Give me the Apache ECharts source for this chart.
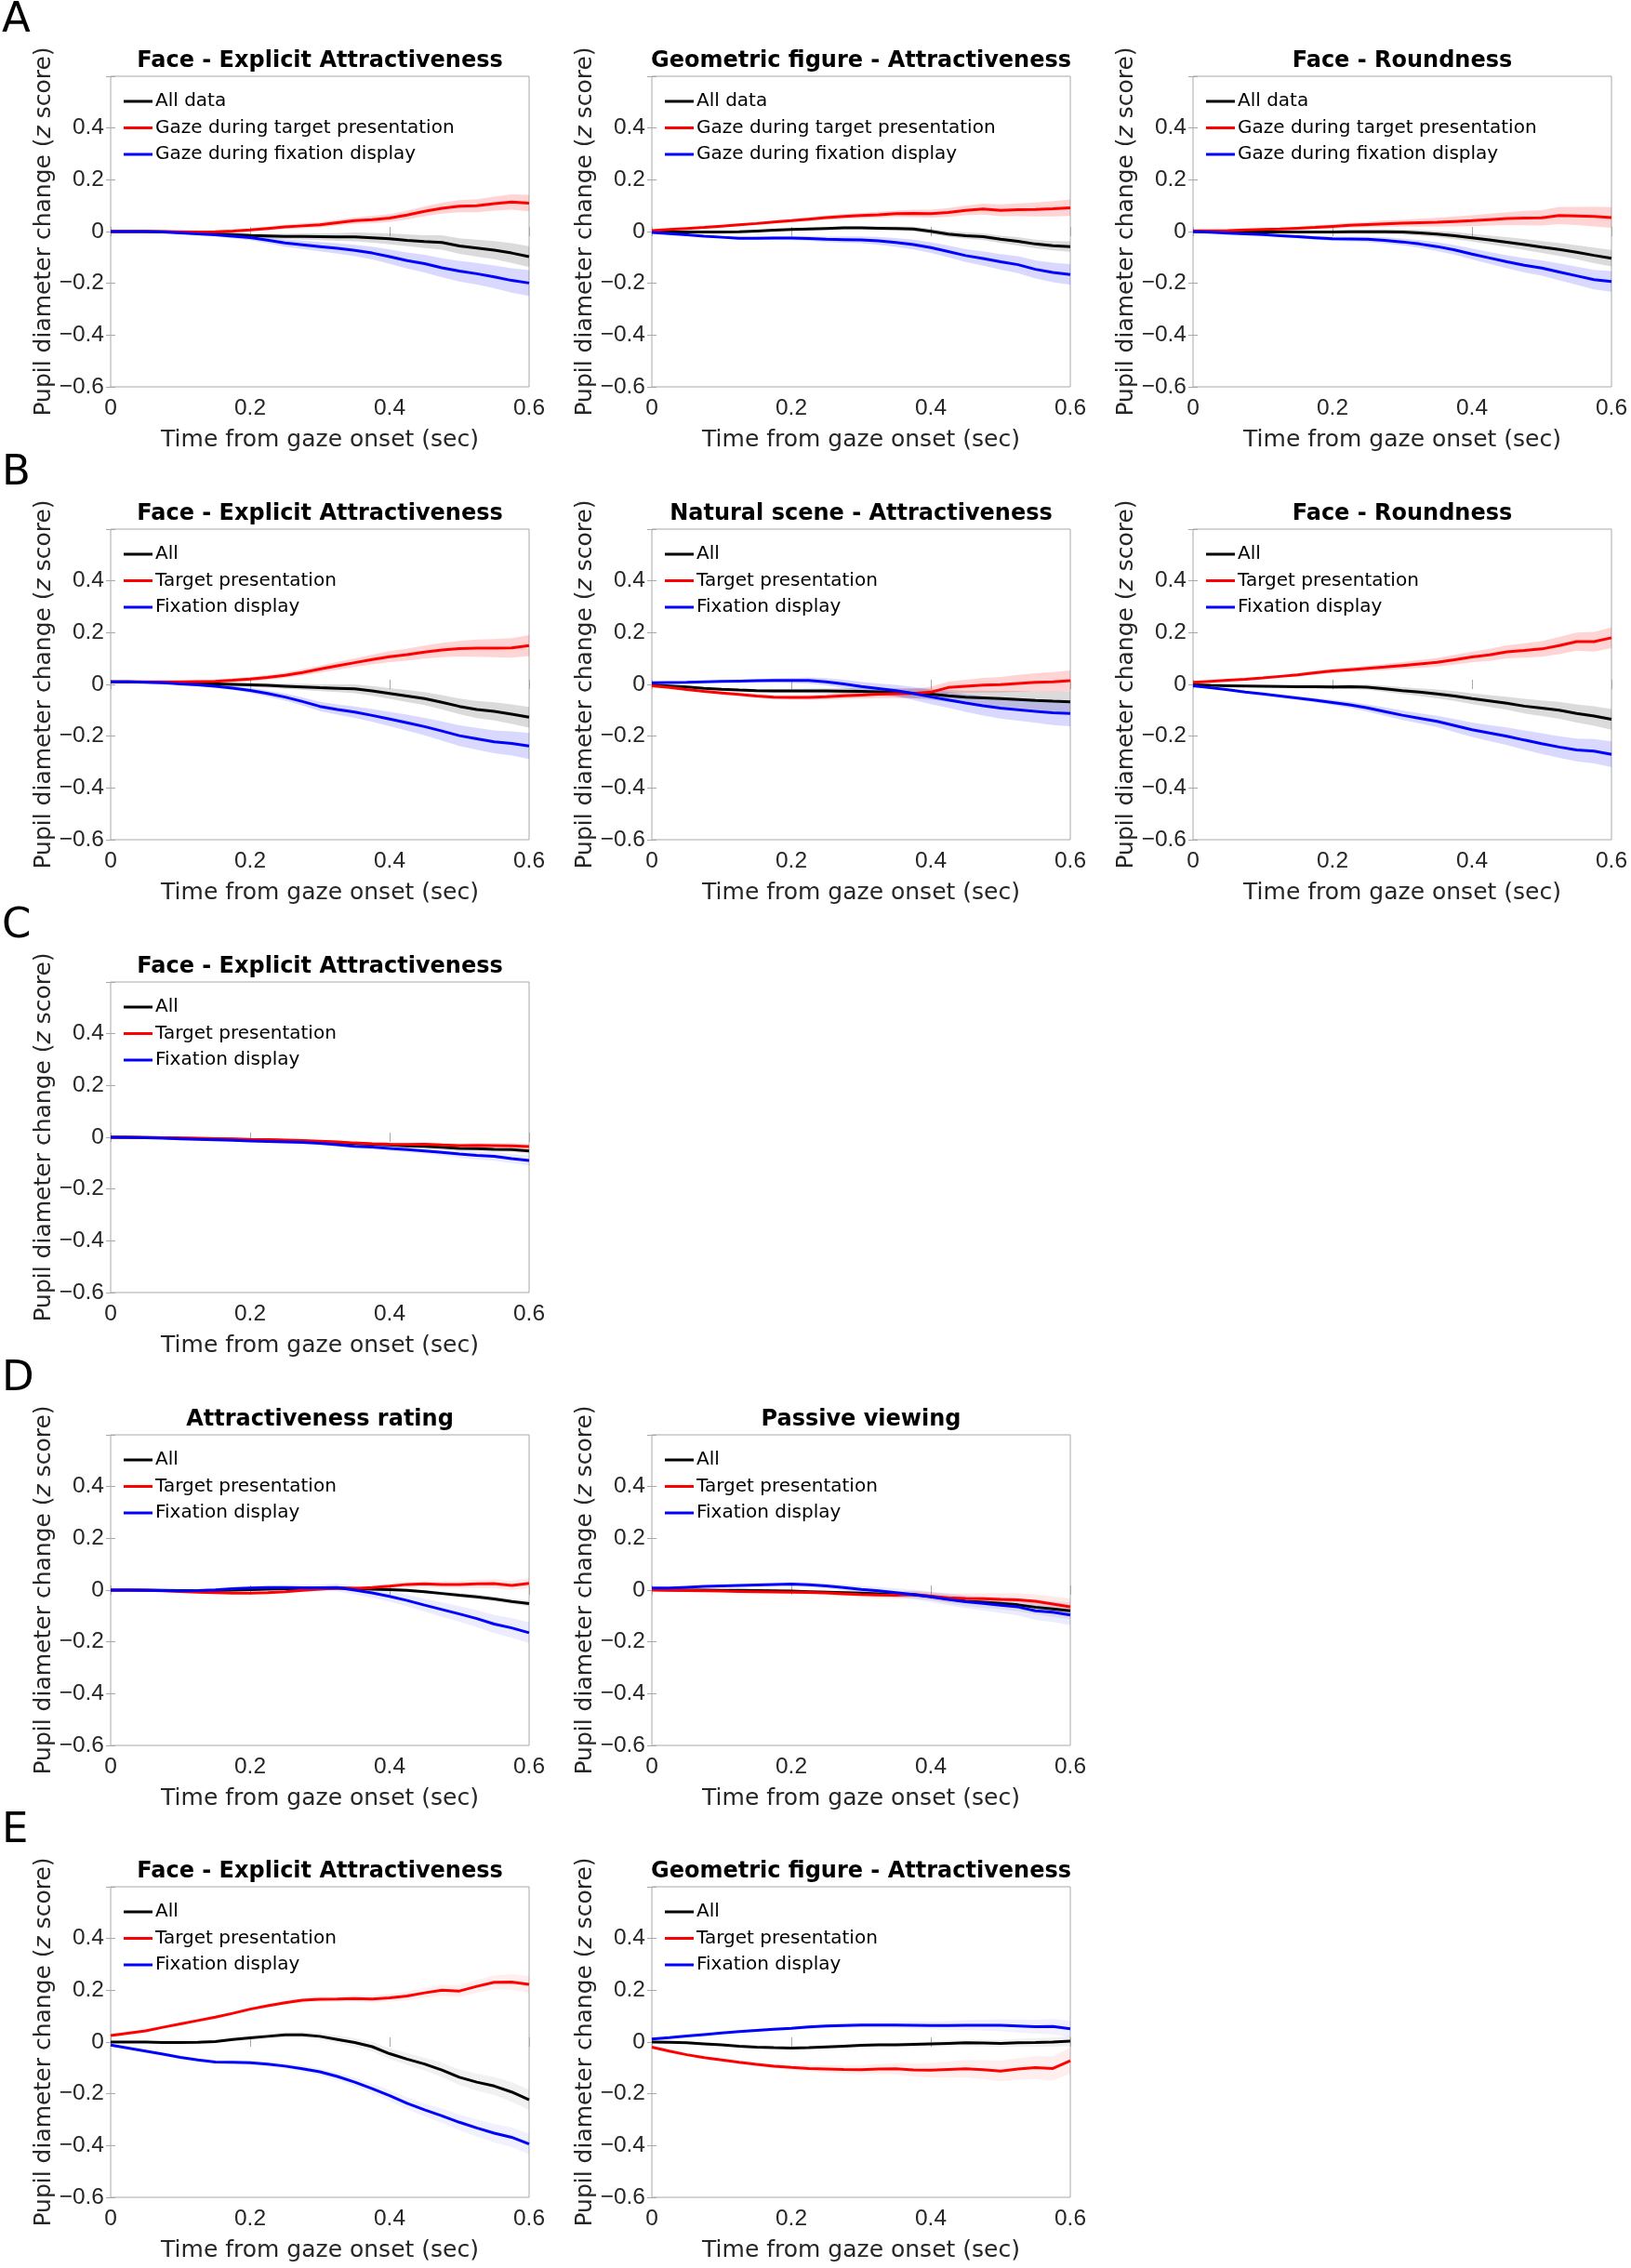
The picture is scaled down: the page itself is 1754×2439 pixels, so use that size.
<!DOCTYPE html>
<html><head><meta charset="utf-8">
<script src="https://cdn.jsdelivr.net/npm/echarts@6/dist/echarts.min.js"></script>
<style>html,body{margin:0;padding:0;background:#fff}#c{width:1754px;height:2439px}</style>
</head><body><div id="c"></div>
<script>
// ---------- data ----------
const T = [0,0.025,0.05,0.075,0.1,0.125,0.15,0.175,0.2,0.225,0.25,0.275,0.3,0.325,0.35,0.375,0.4,0.425,0.45,0.475,0.5,0.525,0.55,0.575,0.6];

const LEG_A = ['All data', 'Gaze during target presentation', 'Gaze during fixation display'];
const LEG_B = ['All', 'Target presentation', 'Fixation display'];

const A1_all = [0,0,0,-0.001,-0.003,-0.006,-0.009,-0.012,-0.015,-0.017,-0.019,-0.019,-0.02,-0.021,-0.021,-0.024,-0.028,-0.034,-0.039,-0.042,-0.056,-0.064,-0.072,-0.083,-0.097];
const A1_tgt = [0,0,0,0,-0.001,-0.002,-0.001,0.002,0.006,0.012,0.018,0.022,0.026,0.034,0.042,0.046,0.052,0.064,0.078,0.09,0.098,0.1,0.108,0.114,0.11];
const A1_fix = [0,0,0,-0.002,-0.005,-0.009,-0.013,-0.018,-0.023,-0.033,-0.044,-0.051,-0.058,-0.065,-0.073,-0.083,-0.097,-0.112,-0.124,-0.14,-0.153,-0.163,-0.175,-0.189,-0.199];

const A2_all = [-0.002,-0.002,-0.002,-0.002,-0.002,-0.001,0.002,0.005,0.008,0.01,0.012,0.014,0.014,0.013,0.012,0.01,0.001,-0.01,-0.016,-0.02,-0.03,-0.038,-0.048,-0.055,-0.058];
const A2_tgt = [0.004,0.008,0.012,0.016,0.021,0.026,0.031,0.037,0.042,0.048,0.054,0.058,0.062,0.065,0.069,0.07,0.069,0.074,0.082,0.087,0.082,0.084,0.085,0.088,0.092];
const A2_fix = [-0.004,-0.008,-0.013,-0.018,-0.022,-0.026,-0.026,-0.025,-0.025,-0.027,-0.03,-0.031,-0.032,-0.036,-0.042,-0.05,-0.062,-0.077,-0.093,-0.104,-0.117,-0.128,-0.146,-0.158,-0.166];

const A3_all = [0,-0.001,-0.002,-0.002,-0.002,-0.002,-0.002,-0.002,-0.002,-0.001,-0.001,-0.001,-0.002,-0.005,-0.01,-0.016,-0.024,-0.032,-0.041,-0.05,-0.06,-0.069,-0.08,-0.092,-0.103];
const A3_tgt = [0.003,0.003,0.004,0.006,0.008,0.01,0.013,0.016,0.02,0.024,0.027,0.03,0.032,0.034,0.036,0.039,0.042,0.046,0.05,0.052,0.053,0.062,0.06,0.058,0.054];
const A3_fix = [0,-0.003,-0.006,-0.009,-0.012,-0.016,-0.02,-0.024,-0.028,-0.029,-0.03,-0.034,-0.04,-0.048,-0.058,-0.071,-0.087,-0.102,-0.117,-0.13,-0.141,-0.156,-0.171,-0.186,-0.193];

const B1_all = [0.01,0.01,0.009,0.008,0.006,0.004,0.002,0,-0.002,-0.004,-0.007,-0.01,-0.013,-0.015,-0.017,-0.025,-0.035,-0.045,-0.055,-0.069,-0.085,-0.097,-0.104,-0.115,-0.127];
const B1_tgt = [0.01,0.01,0.01,0.01,0.01,0.011,0.012,0.016,0.021,0.027,0.035,0.046,0.059,0.072,0.084,0.096,0.107,0.115,0.125,0.133,0.138,0.14,0.14,0.141,0.15];
const B1_fix = [0.01,0.01,0.008,0.006,0.002,-0.002,-0.007,-0.014,-0.023,-0.035,-0.049,-0.066,-0.085,-0.097,-0.107,-0.12,-0.134,-0.148,-0.163,-0.18,-0.198,-0.21,-0.222,-0.228,-0.238];

const B2_all = [-0.002,-0.006,-0.01,-0.015,-0.019,-0.022,-0.024,-0.025,-0.025,-0.025,-0.025,-0.026,-0.027,-0.029,-0.031,-0.034,-0.038,-0.044,-0.049,-0.052,-0.055,-0.058,-0.062,-0.065,-0.067];
const B2_tgt = [-0.005,-0.012,-0.02,-0.027,-0.033,-0.039,-0.045,-0.049,-0.05,-0.05,-0.048,-0.044,-0.041,-0.038,-0.036,-0.035,-0.03,-0.012,-0.007,-0.003,-0.001,0.004,0.008,0.01,0.014];
const B2_fix = [0.006,0.007,0.008,0.01,0.012,0.013,0.014,0.015,0.015,0.015,0.01,0.002,-0.008,-0.016,-0.024,-0.035,-0.048,-0.06,-0.072,-0.083,-0.092,-0.098,-0.104,-0.11,-0.112];

const B3_all = [-0.002,-0.004,-0.005,-0.006,-0.007,-0.008,-0.009,-0.009,-0.01,-0.009,-0.011,-0.017,-0.024,-0.03,-0.037,-0.045,-0.055,-0.064,-0.073,-0.084,-0.092,-0.1,-0.112,-0.122,-0.135];
const B3_tgt = [0.008,0.012,0.016,0.02,0.025,0.031,0.037,0.045,0.052,0.057,0.062,0.067,0.073,0.079,0.085,0.095,0.106,0.114,0.126,0.131,0.137,0.15,0.165,0.165,0.18];
const B3_fix = [-0.005,-0.013,-0.021,-0.03,-0.037,-0.045,-0.053,-0.061,-0.07,-0.079,-0.091,-0.105,-0.119,-0.131,-0.143,-0.159,-0.175,-0.188,-0.2,-0.215,-0.229,-0.242,-0.253,-0.258,-0.27];

const C1_all = [0,0,-0.001,-0.002,-0.004,-0.005,-0.007,-0.008,-0.01,-0.011,-0.013,-0.015,-0.017,-0.021,-0.024,-0.027,-0.03,-0.033,-0.035,-0.039,-0.043,-0.044,-0.047,-0.048,-0.053];
const C1_tgt = [0,0,-0.001,-0.002,-0.003,-0.004,-0.005,-0.006,-0.008,-0.009,-0.011,-0.013,-0.015,-0.018,-0.022,-0.025,-0.027,-0.028,-0.027,-0.03,-0.032,-0.031,-0.032,-0.033,-0.036];
const C1_fix = [0,-0.001,-0.002,-0.004,-0.006,-0.008,-0.01,-0.012,-0.014,-0.016,-0.018,-0.02,-0.023,-0.029,-0.035,-0.038,-0.043,-0.048,-0.053,-0.058,-0.065,-0.07,-0.074,-0.083,-0.09];

const D1_all = [0,0,0,-0.001,-0.002,-0.003,-0.002,0,0.002,0.004,0.005,0.006,0.007,0.008,0.006,0.004,0.002,-0.001,-0.006,-0.013,-0.02,-0.026,-0.034,-0.044,-0.052];
const D1_tgt = [0,0,-0.001,-0.003,-0.005,-0.008,-0.01,-0.012,-0.012,-0.01,-0.006,-0.001,0.004,0.008,0.006,0.01,0.015,0.022,0.024,0.022,0.022,0.024,0.025,0.018,0.026];
const D1_fix = [0,0,-0.001,-0.002,-0.003,-0.002,0.001,0.005,0.008,0.01,0.01,0.009,0.009,0.01,0,-0.011,-0.024,-0.04,-0.058,-0.075,-0.092,-0.11,-0.131,-0.146,-0.165];

const D2_all = [0.002,0.001,0,0,-0.001,-0.001,-0.002,-0.003,-0.004,-0.006,-0.008,-0.01,-0.012,-0.014,-0.016,-0.018,-0.024,-0.034,-0.043,-0.047,-0.051,-0.057,-0.066,-0.073,-0.08];
const D2_tgt = [0,-0.001,-0.002,-0.003,-0.004,-0.005,-0.006,-0.007,-0.008,-0.009,-0.011,-0.014,-0.017,-0.019,-0.02,-0.016,-0.023,-0.03,-0.032,-0.033,-0.036,-0.038,-0.043,-0.054,-0.065];
const D2_fix = [0.008,0.008,0.011,0.014,0.016,0.018,0.02,0.022,0.023,0.021,0.016,0.01,0.003,-0.003,-0.01,-0.017,-0.026,-0.036,-0.045,-0.051,-0.058,-0.065,-0.08,-0.085,-0.096];

const E1_all = [0,0,0,-0.002,-0.002,-0.001,0.002,0.01,0.016,0.022,0.028,0.028,0.022,0.01,-0.002,-0.018,-0.045,-0.066,-0.085,-0.108,-0.136,-0.155,-0.17,-0.193,-0.223];
const E1_tgt = [0.025,0.034,0.043,0.057,0.07,0.083,0.096,0.111,0.127,0.14,0.152,0.162,0.165,0.166,0.168,0.166,0.171,0.178,0.19,0.2,0.197,0.215,0.231,0.232,0.223];
const E1_fix = [-0.012,-0.023,-0.035,-0.047,-0.059,-0.069,-0.077,-0.078,-0.08,-0.085,-0.093,-0.103,-0.115,-0.133,-0.155,-0.18,-0.207,-0.237,-0.262,-0.285,-0.31,-0.332,-0.352,-0.368,-0.394];

const E2_all = [0,-0.001,-0.003,-0.007,-0.011,-0.016,-0.02,-0.022,-0.023,-0.022,-0.019,-0.016,-0.013,-0.011,-0.011,-0.009,-0.007,-0.005,-0.003,-0.004,-0.005,-0.003,-0.002,0,0.004];
const E2_tgt = [-0.02,-0.035,-0.049,-0.06,-0.069,-0.078,-0.086,-0.093,-0.098,-0.102,-0.104,-0.106,-0.107,-0.104,-0.103,-0.108,-0.109,-0.106,-0.103,-0.107,-0.112,-0.104,-0.099,-0.102,-0.072];
const E2_fix = [0.012,0.017,0.023,0.029,0.035,0.04,0.045,0.049,0.053,0.058,0.062,0.064,0.066,0.066,0.066,0.065,0.064,0.064,0.065,0.065,0.065,0.062,0.059,0.06,0.051];

// shaded-band half widths
const bw_xs = [0,0,0.001,0.001,0.001,0.002,0.002,0.002,0.003,0.003,0.003,0.004,0.004,0.005,0.005,0.006,0.006,0.007,0.007,0.008,0.009,0.01,0.01,0.011,0.012];
const bw_s  = [0,0.001,0.001,0.002,0.002,0.003,0.003,0.004,0.004,0.005,0.005,0.006,0.006,0.007,0.008,0.009,0.01,0.011,0.012,0.013,0.014,0.016,0.017,0.018,0.02];
const bw_m  = [0,0.001,0.002,0.003,0.003,0.004,0.005,0.005,0.006,0.007,0.008,0.009,0.01,0.011,0.012,0.014,0.015,0.017,0.019,0.021,0.023,0.025,0.027,0.03,0.032];
const bw_l  = [0,0.001,0.002,0.003,0.004,0.005,0.006,0.007,0.008,0.009,0.01,0.012,0.013,0.015,0.017,0.019,0.021,0.023,0.025,0.028,0.03,0.033,0.035,0.038,0.04];
const bw_xl = [0,0.001,0.002,0.003,0.004,0.005,0.006,0.008,0.01,0.012,0.014,0.016,0.018,0.02,0.022,0.025,0.028,0.031,0.034,0.037,0.04,0.042,0.044,0.047,0.05];

const PANELS = [
  {row:0,col:0,title:'Face - Explicit Attractiveness',leg:LEG_A,v:[A1_all,A1_tgt,A1_fix],bw:[bw_l,bw_m,bw_xl],fade:1},
  {row:0,col:1,title:'Geometric figure - Attractiveness',leg:LEG_A,v:[A2_all,A2_tgt,A2_fix],bw:[bw_s,bw_m,bw_l],fade:1},
  {row:0,col:2,title:'Face - Roundness',leg:LEG_A,v:[A3_all,A3_tgt,A3_fix],bw:[bw_m,bw_l,bw_l],fade:1},
  {row:1,col:0,title:'Face - Explicit Attractiveness',leg:LEG_B,v:[B1_all,B1_tgt,B1_fix],bw:[bw_l,bw_l,bw_xl],fade:1},
  {row:1,col:1,title:'Natural scene - Attractiveness',leg:LEG_B,v:[B2_all,B2_tgt,B2_fix],bw:[bw_l,bw_l,bw_xl],fade:1},
  {row:1,col:2,title:'Face - Roundness',leg:LEG_B,v:[B3_all,B3_tgt,B3_fix],bw:[bw_l,bw_l,bw_xl],fade:1},
  {row:2,col:0,title:'Face - Explicit Attractiveness',leg:LEG_B,v:[C1_all,C1_tgt,C1_fix],bw:[bw_xs,bw_xs,bw_s],fade:0.5},
  {row:3,col:0,title:'Attractiveness rating',leg:LEG_B,v:[D1_all,D1_tgt,D1_fix],bw:[bw_xs,bw_s,bw_l],fade:0.5},
  {row:3,col:1,title:'Passive viewing',leg:LEG_B,v:[D2_all,D2_tgt,D2_fix],bw:[bw_m,bw_m,bw_l],fade:0.5},
  {row:4,col:0,title:'Face - Explicit Attractiveness',leg:LEG_B,v:[E1_all,E1_tgt,E1_fix],bw:[bw_l,bw_m,bw_l],fade:0.4},
  {row:4,col:1,title:'Geometric figure - Attractiveness',leg:LEG_B,v:[E2_all,E2_tgt,E2_fix],bw:[bw_s,bw_xl,bw_m],fade:0.4}
];
const ROW_LETTERS = ['A','B','C','D','E'];

// ---------- layout / style ----------
const ROW_TOP = [82, 569, 1056, 1543, 2029];
const COL_LEFT = [119, 701, 1283];
const PW = 450, PH = 334;
const FONT = "'DejaVu Sans', 'Liberation Sans', Arial, sans-serif";
const TICK_FONT = "'Liberation Sans', Arial, Helvetica, sans-serif";
const AX = '#262626', BOX = '#a8a8a8';
const LINE_COLORS = ['#000000', '#ff0000', '#0000ff'];
const BAND_COLORS = [[0,0,0,0.14], [255,0,0,0.17], [0,0,255,0.15]];

function fmt(v){
  const r = Math.round(v*10)/10;
  if (r === 0) return '0';
  return (r < 0 ? '\u2212' : '') + String(Math.abs(r));
}

const grids=[], xAxes=[], yAxes=[], series=[], legends=[], graphics=[];
PANELS.forEach((p,i)=>{
  const L = COL_LEFT[p.col], Tp = ROW_TOP[p.row];
  grids.push({left:L, top:Tp, width:PW, height:PH, show:true, borderColor:BOX, borderWidth:1, backgroundColor:'#fff'});
  const tick = {show:true, inside:true, length:5, lineStyle:{color:BOX, width:1}};
  xAxes.push({type:'value', gridIndex:i, min:0, max:0.6, interval:0.2, position:'bottom',
    axisLine:{show:false}, axisTick:tick, splitLine:{show:false},
    axisLabel:{fontSize:24.5, color:AX, fontFamily:TICK_FONT, margin:11, formatter:fmt},
    name:'Time from gaze onset (sec)', nameLocation:'middle', nameGap:45,
    nameTextStyle:{fontSize:25, color:AX, fontFamily:FONT}});
  xAxes.push({type:'value', gridIndex:i, min:0, max:0.6, interval:0.2, position:'top',
    axisLine:{show:false}, axisTick:tick, splitLine:{show:false}, axisLabel:{show:false}});
  yAxes.push({type:'value', gridIndex:i, min:-0.6, max:0.6, interval:0.2, position:'left',
    axisLine:{show:false}, axisTick:tick, splitLine:{show:false},
    axisLabel:{fontSize:24.5, color:AX, fontFamily:TICK_FONT, margin:7,
      formatter:v=> v>0.55 ? '' : fmt(v)},
    name:'{a|Pupil diameter change (}{b|z}{a| score)}', nameLocation:'middle', nameGap:59, nameRotate:90,
    nameTextStyle:{fontSize:25, color:AX, fontFamily:FONT,
      rich:{a:{fontSize:25,color:AX,fontFamily:FONT}, b:{fontSize:25,color:AX,fontFamily:FONT,fontStyle:'italic'}}}});
  yAxes.push({type:'value', gridIndex:i, min:-0.6, max:0.6, interval:0.2, position:'right',
    axisLine:{show:false}, axisTick:tick, splitLine:{show:false}, axisLabel:{show:false}});

  // shaded bands (mean ± half width), drawn as polygons through the axis scales
  for (let s=0;s<3;s++){
    const v=p.v[s], w=p.bw[s], bc=BAND_COLORS[s];
    const fill='rgba('+bc[0]+','+bc[1]+','+bc[2]+','+(bc[3]*p.fade)+')';
    series.push({type:'custom', xAxisIndex:2*i, yAxisIndex:2*i, silent:true, z:1, clip:true,
      data:T.map((t,j)=>[t, v[j]-w[j], v[j]+w[j]]),
      renderItem:(params, api)=>{
        if (params.dataIndexInside !== 0) return;
        const n = params.dataInsideLength;
        const up=[], lo=[];
        for (let j=0;j<n;j++){
          up.push(api.coord([api.value(0,j), api.value(2,j)]));
          lo.push(api.coord([api.value(0,j), api.value(1,j)]));
        }
        return {type:'polygon', shape:{points:up.concat(lo.reverse())}, style:{fill:fill, stroke:null}};
      }});
  }
  // mean lines
  for (let s=0;s<3;s++){
    series.push({type:'line', name:p.leg[s], xAxisIndex:2*i, yAxisIndex:2*i, symbol:'none',
      lineStyle:{width:3, color:LINE_COLORS[s]}, itemStyle:{color:LINE_COLORS[s]},
      data:T.map((t,j)=>[t, p.v[s][j]]), z:3});
  }
  legends.push({data:p.leg, left:L+14, top:Tp+17, orient:'vertical', icon:'rect', itemWidth:31, itemHeight:3,
    itemGap:8.5, padding:0, selectedMode:false,
    textStyle:{fontSize:20, color:'#000', fontFamily:FONT, lineHeight:20, padding:[0,0,0,-2]}});
  graphics.push({type:'text', x:L+PW/2, y:Tp-28,
    style:{text:p.title, align:'center', textAlign:'center', verticalAlign:'top', textVerticalAlign:'top',
      font:'bold 24px '+FONT, fill:'#000'}});
});
ROW_LETTERS.forEach((ch,r)=>{
  graphics.push({type:'text', x:2, y:ROW_TOP[r]-82,
    style:{text:ch, align:'left', verticalAlign:'top', font:'45px '+FONT, fill:'#000'}});
});

const chart = echarts.init(document.getElementById('c'), null, {renderer:'canvas'});
chart.setOption({
  animation:false, backgroundColor:'#fff',
  grid:grids, xAxis:xAxes, yAxis:yAxes, series:series, legend:legends, graphic:graphics
});
</script></body></html>
